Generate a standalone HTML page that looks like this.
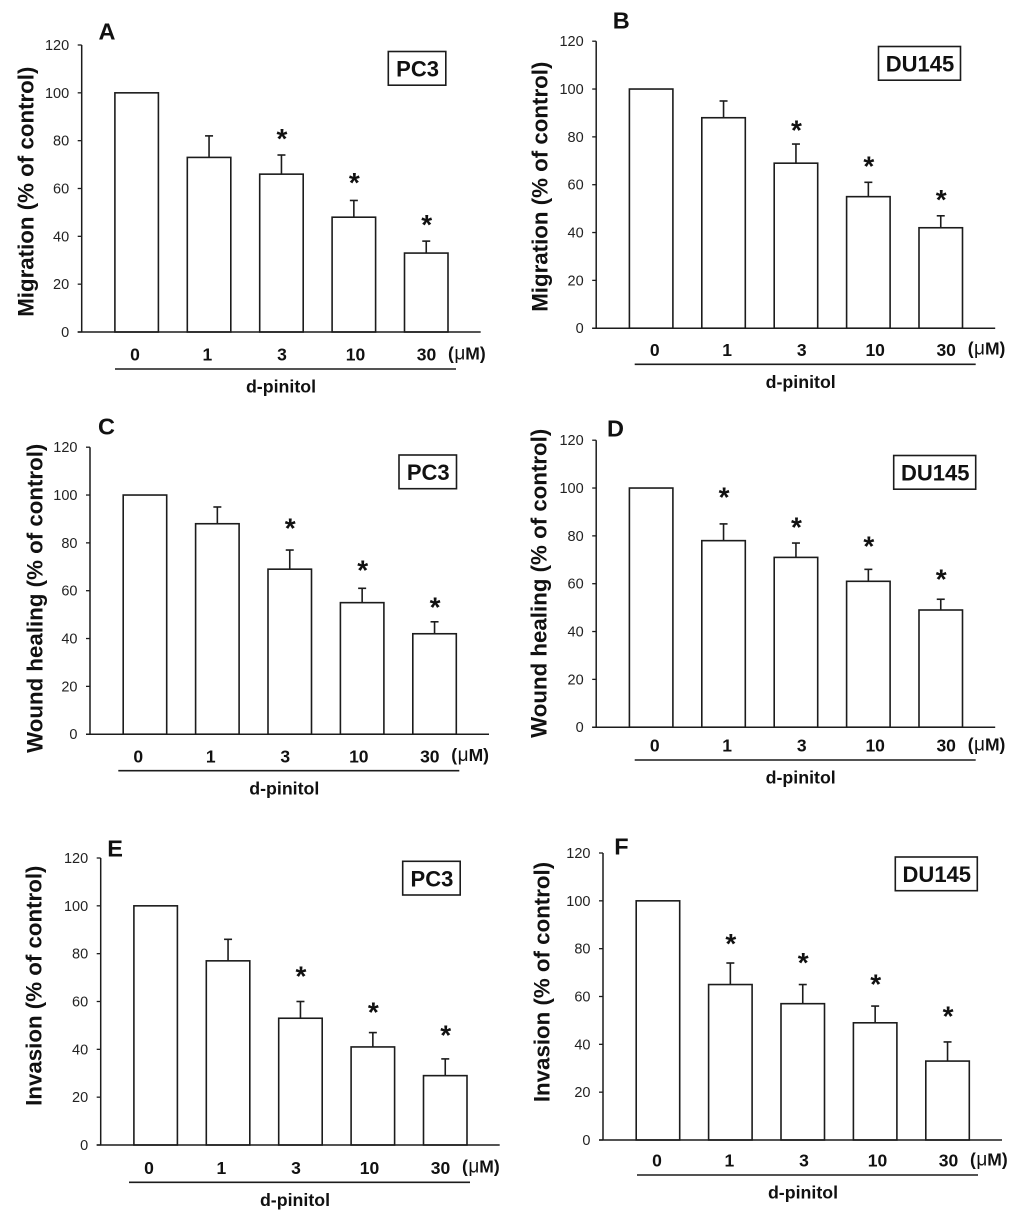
<!DOCTYPE html>
<html lang="en">
<head>
<meta charset="utf-8">
<title>d-pinitol migration, wound healing and invasion charts</title>
<style>
html,body{margin:0;padding:0;background:#fff;width:1024px;height:1224px;overflow:hidden}
svg{display:block}
text{font-family:"Liberation Sans",Arial,sans-serif;fill:#111}
.tick{font-size:14.5px;fill:#222}
.bold{font-weight:700}
.thin{font-weight:400}
</style>
</head>
<body>
<svg id="figure" width="1024" height="1224" viewBox="0 0 1024 1224" xmlns="http://www.w3.org/2000/svg"></svg>
<script>
const categories = ['0', '1', '3', '10', '30'];
const yTickLabels = [0, 20, 40, 60, 80, 100, 120];

const valuesA = [100, 73, 66, 48, 33];
const errorsA = [0, 9, 8, 7, 5];
const starsA = [null, null, 82, 63.5, 46];

const valuesB = [100, 88, 69, 55, 42];
const errorsB = [0, 7, 8, 6, 5];
const starsB = [null, null, 84, 68.9, 54.9];

const valuesC = [100, 88, 69, 55, 42];
const errorsC = [0, 7, 8, 6, 5];
const starsC = [null, null, 87.2, 69.8, 54.3];

const valuesD = [100, 78, 71, 61, 49];
const errorsD = [0, 7, 6, 5, 4.5];
const starsD = [null, 97.3, 84.8, 76.9, 63.1];

const valuesE = [100, 77, 53, 41, 29];
const errorsE = [0, 9, 7, 6, 7];
const starsE = [null, null, 71.8, 56.7, 47.1];

const valuesF = [100, 65, 57, 49, 33];
const errorsF = [0, 9, 8, 7, 8];
const starsF = [null, 83.3, 75.3, 66.2, 52.8];

const panels = [
  {id:'a', letter:'A', values:valuesA, errors:errorsA, stars:starsA, title:'Migration (% of control)', cell:'PC3',
   x0:81.7, y0:332, titleX:33.3, titleY:191.7, boxX:388.3, boxY:51.5, letterX:98.5, letterY:39.5, ruleX:115, ruleY:369},
  {id:'b', letter:'B', values:valuesB, errors:errorsB, stars:starsB, title:'Migration (% of control)', cell:'DU145',
   x0:596.2, y0:328.2, titleX:547.7, titleY:186.7, boxX:878.5, boxY:46.5, letterX:612.7, letterY:28.3, ruleX:634.7, ruleY:364.3},
  {id:'c', letter:'C', values:valuesC, errors:errorsC, stars:starsC, title:'Wound healing (% of control)', cell:'PC3',
   x0:90, y0:734.2, titleX:42.3, titleY:598.3, boxX:399, boxY:455, letterX:98, letterY:434.3, ruleX:118.3, ruleY:770.7},
  {id:'d', letter:'D', values:valuesD, errors:errorsD, stars:starsD, title:'Wound healing (% of control)', cell:'DU145',
   x0:596.2, y0:727.2, titleX:546.3, titleY:583.3, boxX:893.7, boxY:455.5, letterX:607, letterY:436.7, ruleX:634.7, ruleY:760},
  {id:'e', letter:'E', values:valuesE, errors:errorsE, stars:starsE, title:'Invasion (% of control)', cell:'PC3',
   x0:100.7, y0:1145, titleX:41.7, titleY:985.7, boxX:402.7, boxY:861.3, letterX:107.3, letterY:856.3, ruleX:129, ruleY:1182.3},
  {id:'f', letter:'F', values:valuesF, errors:errorsF, stars:starsF, title:'Invasion (% of control)', cell:'DU145',
   x0:603, y0:1140, titleX:549.3, titleY:982, boxX:895.3, boxY:857, letterX:614.3, letterY:854.3, ruleX:637, ruleY:1175}
];

const SVG_NS = 'http://www.w3.org/2000/svg';
const INK = '#1c1c1c';
const PLOT_H = 287;
const Y_MAX = 120;
const AXIS_W = 399;
const BAR_W = 43.5;
const BAR_STEP = 72.4;
const FIRST_BAR = 33.2;
const LABEL_START = 20;
const RULE_W = 341;

function make(parent, tag, attrs, content) {
  const node = document.createElementNS(SVG_NS, tag);
  for (const key in attrs) node.setAttribute(key, attrs[key]);
  if (content !== undefined) node.textContent = content;
  parent.appendChild(node);
  return node;
}

function labelNudge(i) {
  if (i === 2) return 2.2;
  if (i === 3) return 3.3;
  if (i === 4) return 1.9;
  return 0;
}

function drawPanel(root, p) {
  const yScale = function (v) { return p.y0 - v / Y_MAX * PLOT_H; };
  const xLeft = function (i) { return p.x0 + FIRST_BAR + i * BAR_STEP; };
  const xMid = function (i) { return xLeft(i) + BAR_W / 2; };
  const labelY = p.ruleY - 8.3;

  const g = make(root, 'g', {});
  
  

  p.values.forEach(function (v, i) {
    const bar = make(g, 'rect', {x:xLeft(i), y:yScale(v), width:BAR_W, height:yScale(0) - yScale(v), fill:'#fff', stroke:INK, 'stroke-width':1.6});
    
    

    if (p.errors[i] > 0) {
      const top = yScale(v + p.errors[i]);
      const stem = make(g, 'line', {x1:xMid(i), x2:xMid(i), y1:yScale(v), y2:top, stroke:INK, 'stroke-width':1.6});
      
      
      const cap = make(g, 'line', {x1:xMid(i) - 4, x2:xMid(i) + 4, y1:top, y2:top, stroke:INK, 'stroke-width':1.6});
      
      
    }

    if (p.stars[i] !== null) {
      const star = make(g, 'text', {x:xMid(i) + 0.5, y:yScale(p.stars[i]) + 12, 'text-anchor':'middle', 'font-size':28, class:'bold'}, '*');
      
      
    }

    const cat = make(g, 'text', {x:p.ruleX + LABEL_START + i * BAR_STEP + labelNudge(i), y:labelY, 'text-anchor':'middle', 'font-size':17.5, class:'bold'}, categories[i]);
    
    
  });

  const yAxis = make(g, 'line', {x1:p.x0, x2:p.x0, y1:yScale(Y_MAX), y2:p.y0, stroke:INK, 'stroke-width':1.5});
  
  

  const xAxis = make(g, 'line', {x1:p.x0 - 4, x2:p.x0 + AXIS_W, y1:p.y0, y2:p.y0, stroke:INK, 'stroke-width':1.5});
  
  

  yTickLabels.forEach(function (t) {
    const mark = make(g, 'line', {x1:p.x0 - 4, x2:p.x0, y1:yScale(t), y2:yScale(t), stroke:INK, 'stroke-width':1.3});
    
    
    const label = make(g, 'text', {x:p.x0 - 12.5, y:yScale(t) + 5, 'text-anchor':'end', class:'tick'}, String(t));
    
    
  });

  const title = make(g, 'text', {x:p.titleX, y:p.titleY, 'text-anchor':'middle', 'font-size':22.3, class:'bold', transform:'rotate(-90 ' + p.titleX + ' ' + p.titleY + ')'}, p.title);
  
  

  const letter = make(g, 'text', {x:p.letterX, y:p.letterY, 'font-size':23.5, class:'bold'}, p.letter);
  
  

  const boxW = p.cell === 'PC3' ? 57.5 : 82;
  const box = make(g, 'rect', {x:p.boxX, y:p.boxY, width:boxW, height:33.7, fill:'#fff', stroke:INK, 'stroke-width':1.6});
  
  
  const cell = make(g, 'text', {x:p.boxX + boxW / 2 + 0.5, y:p.boxY + 25, 'text-anchor':'middle', 'font-size':22, class:'bold'}, p.cell);
  
  

  const unit = make(g, 'text', {x:p.ruleX + 333, y:labelY - 1.3, 'font-size':17.5, class:'bold'});
  
  
  make(unit, 'tspan', {}, '(');
  make(unit, 'tspan', {class:'thin', 'font-size':19, dx:0.5}, '\u03bc');
  make(unit, 'tspan', {}, 'M)');

  const rule = make(g, 'line', {x1:p.ruleX, x2:p.ruleX + RULE_W, y1:p.ruleY, y2:p.ruleY, stroke:INK, 'stroke-width':1.6});
  
  

  const treat = make(g, 'text', {x:p.ruleX + 166, y:p.ruleY + 23.7, 'text-anchor':'middle', 'font-size':17.8, class:'bold'}, 'd-pinitol');
  
  
}

const figure = document.getElementById('figure');
panels.forEach(function (p) { drawPanel(figure, p); });
</script>
</body>
</html>
